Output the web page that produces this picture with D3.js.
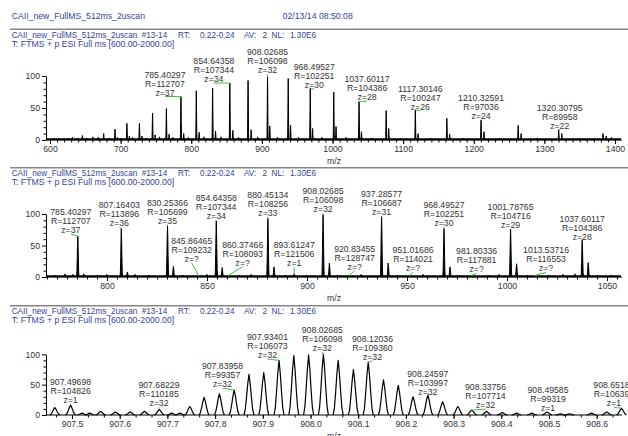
<!DOCTYPE html>
<html>
<head>
<meta charset="utf-8">
<script src="https://cdn.jsdelivr.net/npm/d3@7"></script>
<style>
html, body { margin: 0; padding: 0; background: #fff; }
svg { display: block; font-family: "Liberation Sans", Arial, sans-serif; }
</style>
</head>
<body>
<svg id="chart" width="628" height="436"></svg>
<script>
// ---- data (m/z, relative abundance %) ----

// panel 1: full scan, charge state envelope
var fullMz = [631.9, 645.9, 660.6, 676.0, 692.1, 708.9, 726.6, 745.2, 764.8, 785.40, 807.16, 830.25, 854.64, 880.45, 908.03, 937.29, 968.50, 1001.79, 1037.60, 1076.0, 1117.30, 1161.9, 1210.33, 1262.9, 1320.31, 1383.0];
var fullInt = [4, 7, 5, 10, 17, 26, 26, 42, 49, 68, 77, 81, 89, 93, 99, 96, 81, 75, 60, 46, 47, 34, 31, 23, 16, 10];
var fullSatMz = [695.5, 712.4, 730.2, 748.9, 768.6, 789.3, 811.2, 834.4, 858.9, 884.8, 911.2, 940.6, 971.8, 1005.0, 1041.0, 1079.6, 1121.2, 1165.9, 1214.5, 1267.1, 1324.7, 1387.5];
var fullSatInt = [4, 6, 6, 8, 9, 10, 12, 14, 15, 16, 22, 23, 18, 21, 13, 18, 10, 9, 13, 10, 10, 6];
var fullNoiseMz = [604, 612, 619, 626, 638, 652, 668, 684, 700, 717, 736, 755, 774, 796, 818, 842, 867, 894, 922, 952, 985, 1019, 1056, 1096, 1139, 1185, 1236, 1290, 1350, 1370, 1395, 1403];
var fullNoiseInt = [2, 3, 2, 3, 3, 3, 4, 3, 3, 4, 3, 5, 4, 4, 5, 5, 4, 5, 4, 4, 4, 4, 3, 3, 3, 3, 3, 3, 3, 3, 4, 2];
var fullLabMz = [785.40297, 854.64358, 908.02685, 968.49527, 1037.60117, 1117.30146, 1210.32591, 1320.30795];
var fullLabR = [112707, 107344, 106098, 102251, 104386, 100247, 97036, 89958];
var fullLabZ = ["37", "34", "32", "30", "28", "26", "24", "22"];

// panel 2: 770-1057 zoom
var zoomMz = [785.40, 807.16, 830.25, 854.64, 880.45, 908.03, 937.29, 968.50, 1001.79, 1037.60];
var zoomInt = [65, 77, 81, 89, 93, 99, 96, 77, 76, 59];
var zoomSatMz = [788.4, 810.2, 833.2, 857.6, 883.5, 911.2, 940.6, 971.5, 1004.8, 1040.6];
var zoomSatInt = [5, 8, 17, 15, 16, 22, 22, 16, 21, 23];
var zoomMinorMz = [845.86, 860.37, 893.61, 920.83, 951.02, 981.80, 1013.54];
var zoomMinorInt = [2, 2, 5, 2, 2, 2, 2];
var zoomNoiseMz = [774, 779, 783, 795, 800, 814, 821, 838, 850, 866, 872, 889, 900, 915, 927, 945, 958, 976, 991, 996, 1010, 1021, 1028, 1034, 1045, 1052];
var zoomNoiseInt = [3, 5, 4, 3, 4, 4, 3, 3, 4, 3, 4, 3, 3, 3, 4, 3, 4, 3, 3, 4, 3, 3, 4, 5, 3, 3];
var zoomLabMz = [785.40297, 807.16403, 830.25366, 845.86465, 854.64358, 860.37466, 880.45134, 893.61247, 908.02685, 920.83455, 937.28577, 951.01686, 968.49527, 981.80336, 1001.78765, 1013.53716, 1037.60117];
var zoomLabR = [112707, 113896, 105699, 109232, 107344, 108093, 108256, 121506, 106098, 128747, 106687, 114021, 102251, 117881, 104716, 116553, 104386];
var zoomLabZ = ["37", "36", "35", "?", "34", "?", "33", "1", "32", "?", "31", "?", "30", "?", "29", "?", "28"];

// panel 3: isotope cluster of z=32
var isoMz = [907.464, 907.497, 907.521, 907.537, 907.560, 907.591, 907.622, 907.652, 907.683, 907.709, 907.726, 907.747, 907.777, 907.809, 907.840, 907.871, 907.902, 907.934, 907.965, 907.996, 908.027, 908.058, 908.090, 908.121, 908.153, 908.184, 908.215, 908.246, 908.277, 908.309, 908.338, 908.369, 908.402, 908.432, 908.464, 908.496, 908.524, 908.543, 908.589, 908.621, 908.652];
var isoInt = [12, 16, 3, 3, 6, 5, 5, 6, 9, 3, 3, 14, 29, 35, 41, 67, 70, 90, 98, 99, 100, 90, 75, 87, 58, 49, 30, 33, 22, 14, 8, 6, 4, 3, 3, 5, 2, 2, 3, 5, 11];
var isoLabMz = [907.49698, 907.68229, 907.83958, 907.93401, 908.02685, 908.12036, 908.24597, 908.33756, 908.49585, 908.65180];
var isoLabR = [104826, 110185, 99357, 106073, 106098, 109360, 103997, 107714, 99319, 106392];
var isoLabZ = ["1", "32", "32", "32", "32", "32", "32", "32", "1", "1"];

// label placement nudges [dx px, gap above peak px]
var fullNudge = [[-16, 4], [-16, 4], [0, 6.5], [4, 3], [8, 4.4], [5, 3.3], [0, 4.7], [1, 4.3]];
var zoomNudge = [[-7, 6], [-2, 5.5], [0, 5.3], [-7, 16.7], [0, 5], [15, 13], [0, 5.7], [0, 10.6], [0, 5.3], [6, 9], [0, 4.8], [4, 7.4], [0, 5.8], [6, 6.4], [0, 4], [12, 7.4], [0, 3.2]];
var isoNudge = [[0, 5.3], [0, 6.2], [-11.5, 6], [-11.5, 5.4], [-1, 6.6], [4.6, 5.5], [0, 3.3], [14, 5], [1, 4.3], [-7.5, 5]];

var FONT = 8.7;
var HEAD_FONT = 8.2;
var headColor = "#383f98";
var textColor = "#333";
var green = "#3cbf3c";
var svg = d3.select("#chart");

// top title
svg.append("text").attr("x", 11.7).attr("y", 18.8).attr("font-size", FONT).attr("fill", headColor)
    .text("CAII_new_FullMS_512ms_2uscan");
svg.append("text").attr("x", 282.7).attr("y", 18.8).attr("font-size", FONT).attr("fill", headColor)
    .text("02/13/14 08:50:08");

function peakShape(mz, inten, hw) {
    var off = [-1, -0.75, -0.5, -0.25, 0, 0.25, 0.5, 0.75, 1];
    var frac = [0, 0.13, 0.42, 0.76, 1, 0.76, 0.42, 0.13, 0];
    return off.map(function(o, i) { return [mz + o * hw, inten * frac[i]]; });
}

function drawPanel(cfg) {
    var x = d3.scaleLinear().domain(cfg.domain).range(cfg.range);
    var y = d3.scaleLinear().domain([0, 100]).range([cfg.bottom, cfg.top]);
    var g = svg.append("g");

    // separator and header
    g.append("line").attr("x1", 10).attr("x2", 628).attr("y1", cfg.rule).attr("y2", cfg.rule)
        .attr("stroke", "#858585").attr("stroke-width", 1.5);
    var head = g.append("text").attr("y", cfg.rule + 8.6).attr("font-size", HEAD_FONT).attr("fill", headColor);
    var parts = [[11.7, "CAII_new_FullMS_512ms_2uscan"], [141.7, "#13-14"], [178, "RT:"], [200, "0.22-0.24"],
                 [244, "AV:"], [262.5, "2"], [271.5, "NL:"], [290, "1.30E6"]];
    parts.forEach(function(p) { head.append("tspan").attr("x", p[0]).text(p[1]); });
    g.append("text").attr("x", 11.7).attr("y", cfg.rule + 17.2).attr("font-size", FONT).attr("fill", headColor)
        .text("T: FTMS + p ESI Full ms [600.00-2000.00]");

    // spectrum
    var line = d3.line().x(function(d) { return x(d[0]); }).y(function(d) { return y(d[1]); });
    var peaks = [];
    cfg.series.forEach(function(s) {
        s.mz.forEach(function(m, i) { peaks.push([m, s.int[i]]); });
    });
    if (cfg.baseline) {
        g.append("line").attr("x1", 47).attr("x2", 621)
            .attr("y1", y(cfg.baseline)).attr("y2", y(cfg.baseline))
            .attr("stroke", "#000").attr("stroke-width", 2);
    }
    g.selectAll("path.peak").data(peaks).enter().append("path")
        .attr("class", "peak")
        .attr("d", function(d) { return line(peakShape(d[0], d[1], cfg.halfWidth)); })
        .attr("fill", cfg.filled ? "#000" : "none")
        .attr("stroke", "#000")
        .attr("stroke-width", cfg.stroke)
        .attr("stroke-linejoin", "round");

    // axes
    var xMin = x.invert(46), xMax = x.invert(622);
    var minors = d3.range(Math.ceil(xMin / cfg.minorStep - 1e-6), Math.floor(xMax / cfg.minorStep + 1e-6) + 1)
        .map(function(i) { return i * cfg.minorStep; });
    var axMinor = g.append("g").attr("transform", "translate(0," + cfg.bottom + ")")
        .call(d3.axisBottom(x).tickValues(minors).tickSize(2.5).tickFormat(""));
    axMinor.select(".domain").remove();
    var axMajor = g.append("g").attr("transform", "translate(0," + cfg.bottom + ")")
        .call(d3.axisBottom(x).tickValues(cfg.majors).tickSize(4).tickPadding(2).tickFormat(cfg.fmt));
    axMajor.select(".domain").remove();
    axMajor.attr("font-size", FONT).attr("font-family", null);
    axMajor.selectAll("text").attr("fill", textColor);
    g.append("line").attr("x1", 46).attr("x2", 622).attr("y1", cfg.bottom).attr("y2", cfg.bottom)
        .attr("stroke", "#000");

    var yMinor = g.append("g").attr("transform", "translate(46,0)")
        .call(d3.axisLeft(y).tickValues([10, 20, 30, 40, 60, 70, 80, 90]).tickSize(2.5).tickFormat(""));
    yMinor.select(".domain").remove();
    var yMajor = g.append("g").attr("transform", "translate(46,0)")
        .call(d3.axisLeft(y).tickValues([0, 50, 100]).tickSize(4).tickSizeOuter(0).tickPadding(2));
    yMajor.attr("font-size", FONT).attr("font-family", null);
    yMajor.selectAll("text").attr("fill", textColor);

    g.append("text").attr("x", 334).attr("y", cfg.bottom + 24).attr("text-anchor", "middle")
        .attr("font-size", FONT).attr("fill", textColor).text("m/z");

    // peak annotations
    cfg.labels.mz.forEach(function(m, i) {
        var near = peaks.reduce(function(a, b) { return Math.abs(b[0] - m) < Math.abs(a[0] - m) ? b : a; });
        var px = x(m), py = y(near[1]);
        var cx = px + cfg.labels.nudge[i][0];
        var zc = py - cfg.labels.nudge[i][1];
        g.append("line").attr("x1", px).attr("y1", py).attr("x2", cx).attr("y2", zc + 4)
            .attr("stroke", green).attr("stroke-width", 1);
        var rows = [d3.format(".5f")(m), "R=" + cfg.labels.r[i], "z=" + cfg.labels.z[i]];
        rows.forEach(function(t, k) {
            g.append("text").attr("x", cx).attr("y", zc - (2 - k) * 9 + 3.1)
                .attr("text-anchor", "middle").attr("font-size", FONT).attr("fill", textColor).text(t);
        });
    });
}

drawPanel({
    rule: 29.3, top: 76, bottom: 140, domain: [600, 1400], range: [50, 615],
    majors: d3.range(600, 1401, 100), minorStep: 10, fmt: d3.format("d"),
    series: [{mz: fullNoiseMz, int: fullNoiseInt}, {mz: fullSatMz, int: fullSatInt}, {mz: fullMz, int: fullInt}],
    halfWidth: 0.9, filled: true, stroke: 1, baseline: 1.2,
    labels: {mz: fullLabMz, r: fullLabR, z: fullLabZ, nudge: fullNudge}
});

drawPanel({
    rule: 167.7, top: 214, bottom: 277, domain: [800, 1050], range: [107, 607],
    majors: d3.range(800, 1051, 50), minorStep: 5, fmt: d3.format("d"),
    series: [{mz: zoomNoiseMz, int: zoomNoiseInt}, {mz: zoomMinorMz, int: zoomMinorInt},
             {mz: zoomSatMz, int: zoomSatInt}, {mz: zoomMz, int: zoomInt}],
    halfWidth: 0.6, filled: true, stroke: 1, baseline: 1.2,
    labels: {mz: zoomLabMz, r: zoomLabR, z: zoomLabZ, nudge: zoomNudge}
});

drawPanel({
    rule: 305.7, top: 354.3, bottom: 415, domain: [907.5, 908.6], range: [72, 596.7],
    majors: d3.range(9075, 9087).map(function(v) { return v / 10; }), minorStep: 1 / 30, fmt: d3.format(".1f"),
    series: [{mz: isoMz, int: isoInt}],
    halfWidth: 0.0105, filled: false, stroke: 1.2, baseline: 0,
    labels: {mz: isoLabMz, r: isoLabR, z: isoLabZ, nudge: isoNudge}
});
</script>
</body>
</html>
